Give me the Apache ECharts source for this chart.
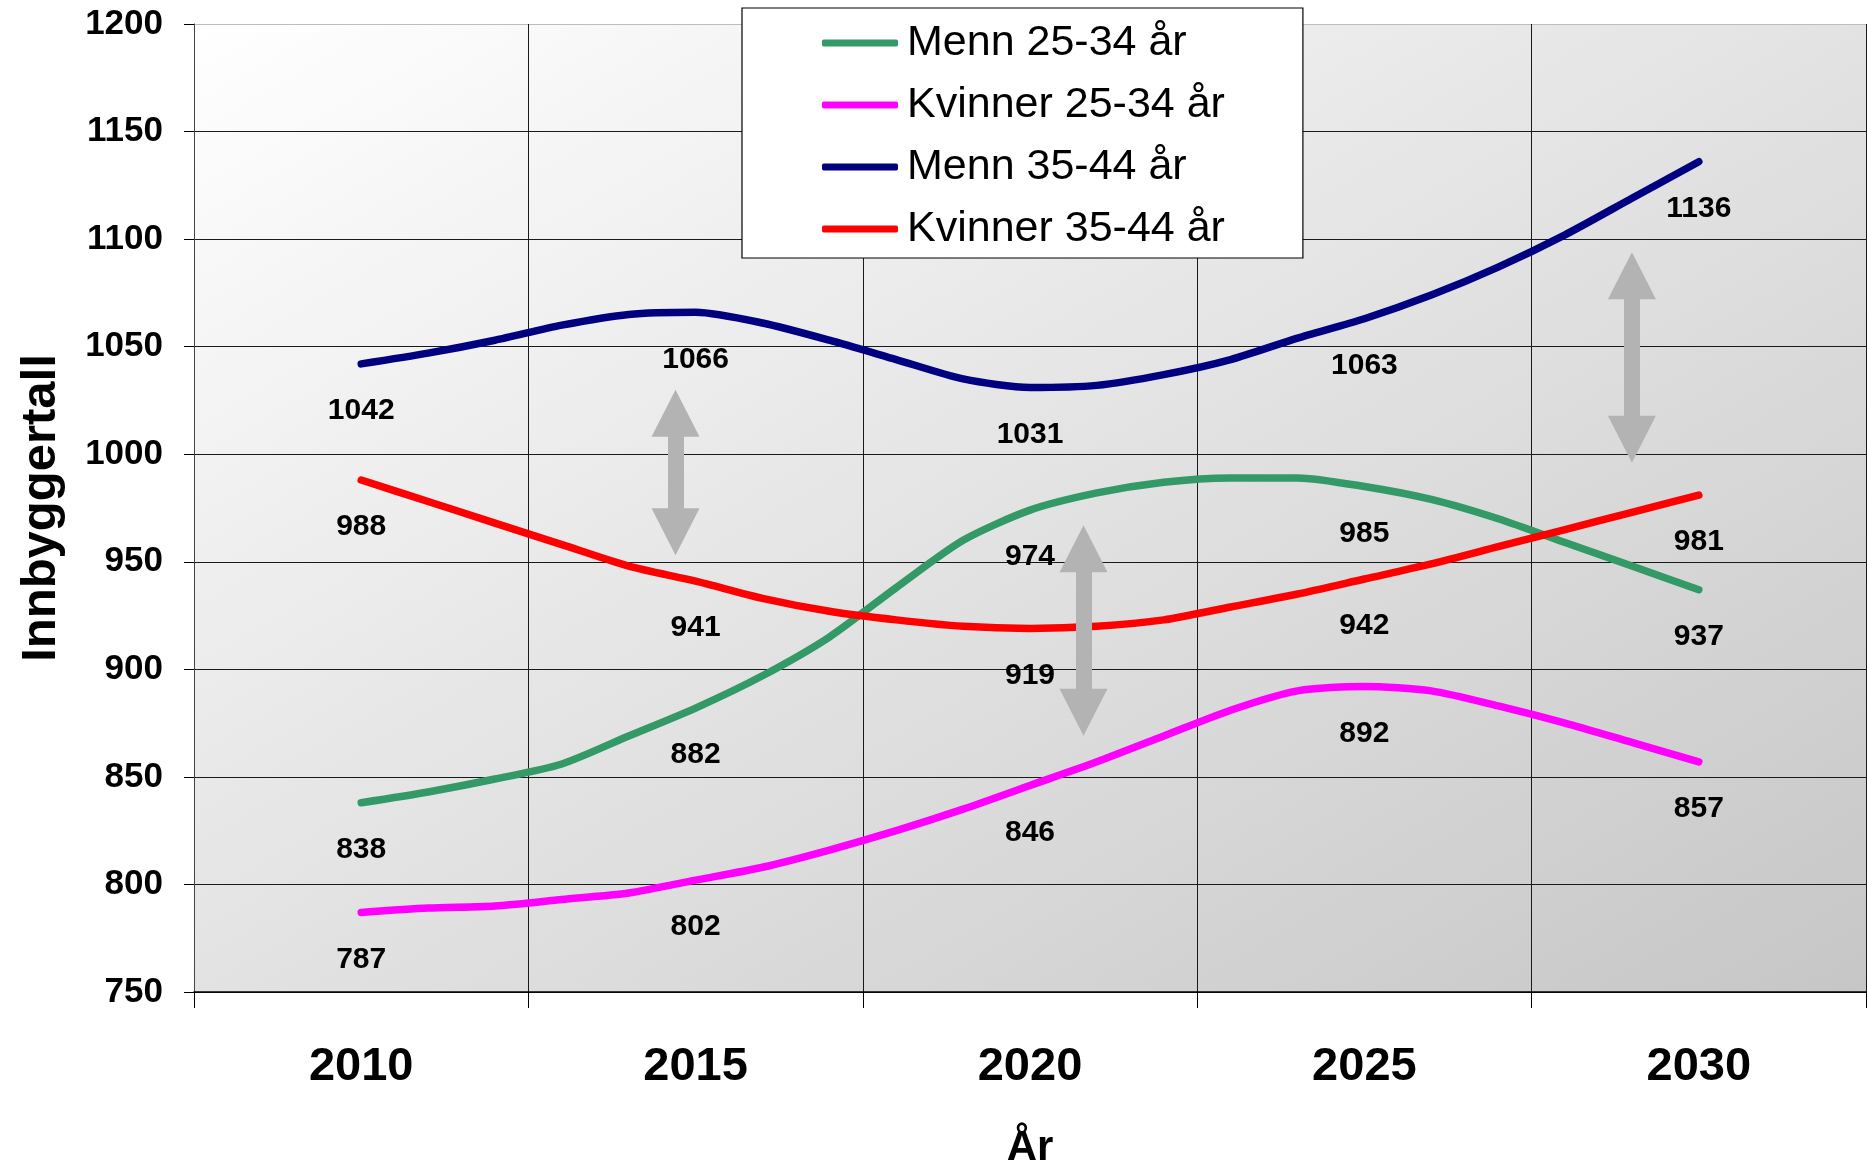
<!DOCTYPE html>
<html>
<head>
<meta charset="utf-8">
<script src="https://cdn.jsdelivr.net/npm/echarts@6/dist/echarts.min.js"></script>
<style>
  html, body { margin: 0; padding: 0; background: #fff; }
  #chart { width: 1867px; height: 1163px; }
</style>
</head>
<body>
<div id="chart"></div>
<script>
const years = [2010, 2011, 2012, 2013, 2014, 2015, 2016, 2017, 2018, 2019, 2020,
  2021, 2022, 2023, 2024, 2025, 2026, 2027, 2028, 2029, 2030]

const menn2534 = [838, 843, 849, 856, 869, 882, 897, 915, 938, 960, 974,
  982, 987, 989, 989, 985, 979, 970, 959, 948, 937]
const kvinner2534 = [787, 789, 790, 793, 796, 802, 808, 816, 825, 835, 846,
  857, 869, 881, 890, 892, 890, 883, 875, 866, 857]
const menn3544 = [1042, 1047, 1053, 1060, 1065, 1066, 1061, 1053, 1044, 1035, 1031,
  1032, 1037, 1044, 1054, 1063, 1074, 1087, 1102, 1119, 1136]
const kvinner3544 = [988, 978, 968, 958, 948, 941, 933, 927, 923, 920, 919,
  920, 923, 929, 935, 942, 949, 957, 965, 973, 981]

const seriesNames = ['Menn 25-34 år', 'Kvinner 25-34 år', 'Menn 35-44 år', 'Kvinner 35-44 år']
const seriesColors = ['#339966', '#ff00ff', '#000080', '#ff0000']

// years that get a value label, and where the year labels sit
const labelYears = [2010, 2015, 2020, 2025, 2030]
// vertical grid lines fall between the labelled years
const gridYears = [2007.5, 2012.5, 2017.5, 2022.5, 2027.5, 2032.5]

// grey double arrows (centre of each arrow head)
const arrowYears = [2014.7, 2020.8, 2029.0]
const arrowTop = [1019, 956, 1083]
const arrowBottom = [964, 880, 1007]

const font = '"Liberation Sans", Arial, sans-serif'

const chart = echarts.init(document.getElementById('chart'))

function lineSeries(name, values, color) {
  return {
    name: name,
    type: 'line',
    data: years.map((y, i) => [y, values[i]]),
    symbol: 'circle',
    symbolSize: 2,
    showSymbol: true,
    smooth: 0.25,
    z: 3,
    itemStyle: { color: color },
    lineStyle: { color: color, width: 7.5, cap: 'round', join: 'round' },
    label: {
      show: true,
      position: 'bottom',
      distance: 31,
      fontFamily: font,
      fontWeight: 'bold',
      fontSize: 30,
      lineHeight: 30,
      color: '#000',
      formatter: p => labelYears.includes(p.value[0]) ? String(p.value[1]) : ''
    },
    emphasis: { disabled: true }
  }
}

const allValues = [menn2534, kvinner2534, menn3544, kvinner3544]
const series = seriesNames.map((n, i) => lineSeries(n, allValues[i], seriesColors[i]))

series.push({
  name: 'piler',
  type: 'line',
  data: [],
  z: 5,
  markLine: {
    silent: true,
    animation: false,
    symbol: ['triangle', 'triangle'],
    symbolSize: [48, 47],
    lineStyle: { color: '#b3b3b3', width: 16, type: 'solid', opacity: 1 },
    itemStyle: { color: '#b3b3b3' },
    label: { show: false },
    emphasis: { disabled: true },
    data: arrowYears.map((yr, i) => [
      { coord: [yr, arrowTop[i]] },
      { coord: [yr, arrowBottom[i]] }
    ])
  }
})

const option = {
  animation: false,
  backgroundColor: '#fff',
  grid: {
    left: 194, right: 1, top: 24, bottom: 171,
    outerBoundsMode: 'none',
    containLabel: false,
    show: true,
    borderWidth: 0,
    backgroundColor: new echarts.graphic.LinearGradient(0, 0, 0.5, 1.5, [
      { offset: 0, color: '#ffffff' },
      { offset: 1, color: '#c6c6c6' }
    ])
  },
  legend: {
    data: seriesNames,
    orient: 'vertical',
    left: 742,
    top: 8,
    padding: [10, 78, 4, 80],
    itemGap: 12,
    itemWidth: 76,
    itemHeight: 7,
    icon: 'roundRect',
    backgroundColor: '#fff',
    borderColor: '#000',
    borderWidth: 1.2,
    textStyle: {
      fontFamily: font,
      fontSize: 43,
      lineHeight: 50,
      color: '#000',
      padding: [0, 0, 0, 4]
    }
  },
  xAxis: {
    type: 'value',
    min: 2007.5,
    max: 2032.5,
    name: 'År',
    nameLocation: 'middle',
    nameGap: 135,
    nameTextStyle: { fontFamily: font, fontWeight: 'bold', fontSize: 42, color: '#000' },
    axisLine: { show: true, onZero: false, lineStyle: { color: '#000', width: 1.5 } },
    axisTick: { show: true, length: 16, customValues: gridYears, lineStyle: { color: '#000', width: 1 } },
    axisLabel: {
      customValues: labelYears,
      formatter: v => String(v),
      fontFamily: font,
      fontWeight: 'bold',
      fontSize: 47,
      margin: 52,
      color: '#000'
    },
    splitLine: { show: true, lineStyle: { color: '#1a1a1a', width: 1 } }
  },
  yAxis: {
    type: 'value',
    min: 750,
    max: 1200,
    interval: 50,
    name: 'Innbyggertall',
    nameLocation: 'middle',
    nameGap: 128,
    nameTextStyle: { fontFamily: font, fontWeight: 'bold', fontSize: 49, color: '#000' },
    axisLine: { show: true, lineStyle: { color: '#444', width: 1 } },
    axisTick: { show: true, length: 10, lineStyle: { color: '#000' } },
    axisLabel: {
      formatter: v => String(v),
      fontFamily: font,
      fontWeight: 'bold',
      fontSize: 35,
      margin: 31,
      color: '#000'
    },
    splitLine: {
      show: true,
      lineStyle: {
        color: ['#1a1a1a', '#1a1a1a', '#1a1a1a', '#1a1a1a', '#1a1a1a',
          '#1a1a1a', '#1a1a1a', '#1a1a1a', '#1a1a1a', '#bdbdbd'],
        width: 1
      }
    }
  },
  series: series
}

chart.setOption(option)
</script>
</body>
</html>
